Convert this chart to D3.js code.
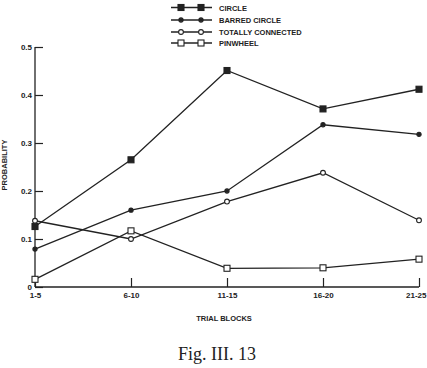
<!DOCTYPE html>
<html>
<head>
<meta charset="utf-8">
<script src="https://cdn.jsdelivr.net/npm/d3@7"></script>
<style>
  body { margin: 0; background: #fff; }
  text { font-family: "Liberation Sans", Arial, sans-serif; fill: #222; }
</style>
</head>
<body>
<div id="chart"></div>
<script>
// data
var blocks = ["1-5", "6-10", "11-15", "16-20", "21-25"];
var circle = [0.126, 0.265, 0.451, 0.371, 0.412];
var barredCircle = [0.079, 0.160, 0.200, 0.338, 0.318];
var totallyConnected = [0.138, 0.100, 0.178, 0.238, 0.139];
var pinwheel = [0.016, 0.117, 0.039, 0.040, 0.058];
var seriesNames = ["CIRCLE", "BARRED CIRCLE", "TOTALLY CONNECTED", "PINWHEEL"];
var yTicks = [0, 0.1, 0.2, 0.3, 0.4, 0.5];

var W = 427, H = 368;
var margin = { top: 47, right: 8, bottom: 81, left: 35 },
    width = W - margin.left - margin.right,
    height = H - margin.top - margin.bottom;

var svg = d3.select("#chart").append("svg")
    .attr("width", W).attr("height", H);

var g = svg.append("g")
    .attr("transform", "translate(" + margin.left + "," + margin.top + ")");

var x = d3.scalePoint().domain(blocks).range([0, width]);
var y = d3.scaleLinear().domain([0, 0.5]).range([height, 0]);

var ink = "#222";

// y axis, ticks pointing inward
var yAxis = g.append("g")
    .call(d3.axisRight(y).tickValues(yTicks).tickSize(8)
        .tickFormat(function (d) { return d === 0 ? "0" : d3.format(".1f")(d); }));
yAxis.select(".domain").remove();
yAxis.selectAll("line").attr("stroke", ink).attr("stroke-width", 1.2);
yAxis.selectAll("text")
    .attr("x", -3).attr("text-anchor", "end")
    .style("font-size", "8px").style("font-weight", "bold");
g.append("line").attr("x1", 0).attr("x2", 0).attr("y1", 0).attr("y2", height)
    .attr("stroke", ink).attr("stroke-width", 1.3);

// x axis, ticks pointing up
var xAxis = g.append("g")
    .attr("transform", "translate(0," + height + ")")
    .call(d3.axisTop(x).tickSize(9));
xAxis.select(".domain").remove();
xAxis.selectAll("line").attr("stroke", ink).attr("stroke-width", 1.2);
xAxis.selectAll("text")
    .attr("y", 11).attr("dy", 0)
    .style("font-size", "8px").style("font-weight", "bold");
// last label sits at the right edge, keep it inside the page
xAxis.selectAll("text").filter(function (d) { return d === blocks[blocks.length - 1]; })
    .attr("text-anchor", "end").attr("x", margin.right - 1);
g.append("line").attr("x1", 0).attr("x2", width).attr("y1", height).attr("y2", height)
    .attr("stroke", ink).attr("stroke-width", 1.3);

// axis titles
g.append("text")
    .attr("transform", "translate(" + (7 - margin.left) + "," + 118 + ") rotate(-90)")
    .attr("text-anchor", "middle")
    .style("font-size", "7.5px").style("font-weight", "bold")
    .text("PROBABILITY");

g.append("text")
    .attr("x", 224 - margin.left).attr("y", height + 34)
    .attr("text-anchor", "middle")
    .style("font-size", "7.5px").style("font-weight", "bold")
    .text("TRIAL BLOCKS");

svg.append("text")
    .attr("x", 217).attr("y", 360)
    .attr("text-anchor", "middle")
    .style("font-family", "'Liberation Serif', 'DejaVu Serif', serif")
    .style("font-size", "18px")
    .text("Fig. III. 13");

// marker drawing
function marker(sel, kind) {
    if (kind === 0 || kind === 3) {
        sel.append("rect")
            .attr("x", -3).attr("y", -3).attr("width", 6).attr("height", 6)
            .attr("fill", kind === 0 ? ink : "#fff")
            .attr("stroke", ink).attr("stroke-width", 1.1);
    } else {
        sel.append("circle")
            .attr("r", kind === 1 ? 2.1 : 2.4)
            .attr("fill", kind === 1 ? ink : "#fff")
            .attr("stroke", ink).attr("stroke-width", 1.1);
    }
}

var allSeries = [circle, barredCircle, totallyConnected, pinwheel];
var line = d3.line()
    .x(function (d, i) { return x(blocks[i]); })
    .y(function (d) { return y(d); });

allSeries.forEach(function (vals, k) {
    g.append("path")
        .datum(vals)
        .attr("d", line)
        .attr("fill", "none")
        .attr("stroke", ink)
        .attr("stroke-width", 1.3);
});
allSeries.forEach(function (vals, k) {
    vals.forEach(function (v, i) {
        var m = g.append("g")
            .attr("transform", "translate(" + x(blocks[i]) + "," + y(v) + ")");
        marker(m, k);
    });
});

// legend
var legendY = [7.5, 20, 32, 43];
seriesNames.forEach(function (name, k) {
    var lg = svg.append("g").attr("transform", "translate(171," + legendY[k] + ")");
    lg.append("line").attr("x1", 0).attr("x2", 41).attr("y1", 0).attr("y2", 0)
        .attr("stroke", ink).attr("stroke-width", 1.3);
    marker(lg.append("g").attr("transform", "translate(10,0)"), k);
    marker(lg.append("g").attr("transform", "translate(30,0)"), k);
    lg.append("text")
        .attr("x", 48).attr("y", 3)
        .style("font-size", "7.5px").style("font-weight", "bold")
        .text(name);
});
</script>
</body>
</html>
